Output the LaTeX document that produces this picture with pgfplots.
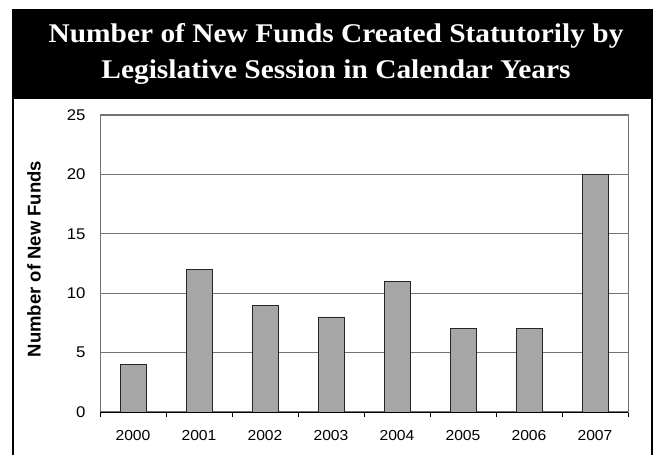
\documentclass[border=0pt]{standalone}
\usepackage{pgfplots}
\pgfplotsset{compat=1.18}
\usepackage{fontspec}
\setmainfont{Liberation Sans}
\newfontfamily\titlefont[FakeStretch=1.09]{Liberation Serif}
\newfontfamily\tickfont[FakeStretch=1.08]{Liberation Sans}
\definecolor{barfill}{RGB}{166,166,166}
\definecolor{gridc}{RGB}{115,115,115}
\begin{document}
\begin{tikzpicture}[x=1pt,y=1pt]
\useasboundingbox (0,0) rectangle (660,455);
% title band and frame
\fill[black] (12,446) rectangle (653,356);
\draw[black, line width=2.5pt] (13,446) -- (13,0);
\draw[black, line width=2.5pt] (652,446) -- (652,0);
\node[text=white, align=center, font=\titlefont\bfseries\fontsize{27}{36.5}\selectfont] at (336,401)
  {Number of New Funds Created Statutorily by\\Legislative Session in Calendar Years};
\node[rotate=90, font=\bfseries\fontsize{18.5}{20}\selectfont] at (34,196) {Number of New Funds};
\begin{axis}[
  at={(100pt,43pt)}, anchor=south west,
  scale only axis, width=528pt, height=297pt,
  xmin=-0.5, xmax=7.5, ymin=0, ymax=25,
  ytick={0,5,...,25},
  xtick={0,...,7},
  xticklabels={2000,2001,2002,2003,2004,2005,2006,2007},
  minor xtick={-0.5,0.5,...,7.5},
  major tick length=0pt, minor tick length=5pt,
  tick align=outside, xtick pos=bottom, ytick pos=left,
  ytick style={draw=none},
  minor tick style={black, line width=0.8pt},
  axis line style={gridc, line width=1pt},
  ymajorgrids, grid style={gridc, line width=1.3pt},
  /pgf/number format/assume math mode=true,
  yticklabel style={font=\tickfont\fontsize{15.5}{16}\selectfont, anchor=east, xshift=-11pt},
  xticklabel style={font=\tickfont\fontsize{14.5}{16}\selectfont, yshift=-15pt},
  ybar, bar width=26pt,
]
\addplot[fill=barfill, draw=black!85, line width=0.8pt] coordinates {
 (0,4) (1,12) (2,9) (3,8) (4,11) (5,7) (6,7) (7,20)};
\draw[black, line width=1pt] (rel axis cs:0,0) -- (rel axis cs:1,0);
\end{axis}
\end{tikzpicture}
\end{document}
